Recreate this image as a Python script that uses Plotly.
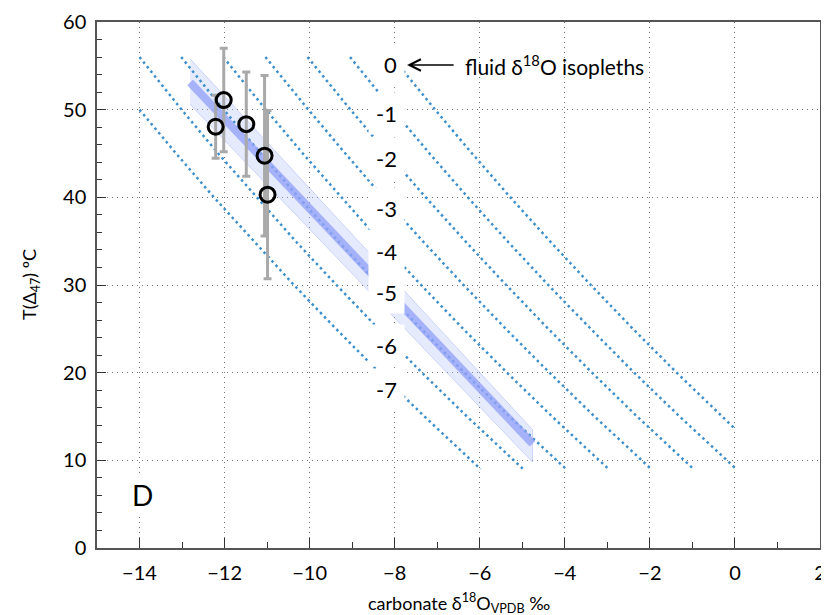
import plotly.graph_objects as go

# ---------------- data ----------------
x_obs = [-12.21, -12.02, -11.49, -11.06, -10.99]
t_obs = [48.05, 51.1, 48.35, 44.75, 40.3]
t_err = [3.6, 5.9, 5.95, 9.15, 9.6]

fit_x = [-12.81, -4.76]
fit_t = [53.1, 11.9]
band_upper = [55.8, 13.5]
band_lower = [50.6, 9.8]

# fluid d18O isopleths (carbonate d18O vs T)
iso_names = ["0", "-1", "-2", "-3", "-4", "-5", "-6", "-7"]
iso_t_0 = [56, 50, 45, 40, 35, 30, 25, 20, 15, 13.6]
iso_x_0 = [-8.06, -7.05, -6.18, -5.28, -4.35, -3.39, -2.40, -1.37, -0.30, 0.0]
iso_t_1 = [56, 50, 45, 40, 35, 30, 25, 20, 15, 9.15]
iso_x_1 = [-9.05, -8.05, -7.18, -6.28, -5.35, -4.39, -3.39, -2.37, -1.30, 0.0]
iso_t_std = [56, 50, 45, 40, 35, 30, 25, 20, 15, 9]
iso_x_2 = [-10.05, -9.04, -8.17, -7.27, -6.34, -5.38, -4.39, -3.36, -2.30, -0.97]
iso_x_3 = [-11.04, -10.03, -9.16, -8.27, -7.34, -6.38, -5.39, -4.36, -3.30, -1.97]
iso_x_4 = [-12.03, -11.03, -10.16, -9.26, -8.34, -7.38, -6.39, -5.36, -4.30, -2.97]
iso_x_5 = [-13.02, -12.02, -11.15, -10.26, -9.33, -8.37, -7.38, -6.36, -5.30, -3.97]
iso_x_6 = [-14.0, -13.01, -12.15, -11.25, -10.33, -9.37, -8.38, -7.36, -6.30, -4.98]
iso_t_7 = [50, 45, 40, 35, 30, 25, 20, 15, 9]
iso_x_7 = [-14.0, -13.14, -12.25, -11.32, -10.37, -9.38, -8.36, -7.30, -5.98]

label_t = [55.1, 49.6, 44.4, 38.7, 33.8, 29.2, 23.1, 18.1]

x_ticks = [-14, -12, -10, -8, -6, -4, -2, 0, 2]
x_ticktext = ["\u221214", "\u221212", "\u221210", "\u22128", "\u22126", "\u22124", "\u22122", "0", "2"]
y_ticks = [0, 10, 20, 30, 40, 50, 60]

# ---------------- figure ----------------
FONT = "Lato, 'Open Sans', sans-serif"
ISO_COLOR = "#3d8fcb"

iso_lines = [
    (iso_x_0, iso_t_0), (iso_x_1, iso_t_1), (iso_x_2, iso_t_std), (iso_x_3, iso_t_std),
    (iso_x_4, iso_t_std), (iso_x_5, iso_t_std), (iso_x_6, iso_t_std), (iso_x_7, iso_t_7),
]

fig = go.Figure()

# regression band
fig.add_trace(go.Scatter(
    x=fit_x + fit_x[::-1], y=band_upper + band_lower[::-1],
    fill="toself", fillcolor="rgba(170,185,250,0.30)",
    line=dict(color="rgba(150,165,245,0.40)", width=1),
    mode="lines", hoverinfo="skip", showlegend=False))

for (xs, ts), name in zip(iso_lines, iso_names):
    fig.add_trace(go.Scatter(
        x=xs, y=ts, mode="lines", name=name,
        line=dict(color=ISO_COLOR, width=2.5, dash="2.5px,3.4px"),
        showlegend=False, hoverinfo="skip"))

# best-fit line
fig.add_trace(go.Scatter(
    x=fit_x, y=fit_t, mode="lines",
    line=dict(color="rgba(148,162,247,0.78)", width=8),
    showlegend=False, hoverinfo="skip"))

# observations
fig.add_trace(go.Scatter(
    x=x_obs, y=t_obs, mode="markers",
    marker=dict(symbol="circle-open", size=15, color="black", line=dict(width=3, color="black")),
    error_y=dict(type="data", array=t_err, visible=True, color="#a9a9a9", thickness=3, width=4),
    showlegend=False))

annotations = []
for name, t in zip(iso_names, label_t):
    annotations.append(dict(
        x=-7.76, y=t, xref="x", yref="y", text=name, showarrow=False,
        xanchor="right", yanchor="middle", bgcolor="white", borderpad=7,
        font=dict(family=FONT, size=22, color="black")))

# arrow
annotations.append(dict(
    x=-7.71, y=55.1, ax=-6.58, ay=55.1, xref="x", yref="y", axref="x", ayref="y",
    text="", showarrow=True, arrowhead=5, arrowsize=1.4, arrowwidth=1.6, arrowcolor="black"))
annotations.append(dict(
    x=-6.39, y=55.1, xref="x", yref="y", text="fluid \u03b4<sup>18</sup>O isopleths",
    showarrow=False, xanchor="left", yanchor="middle",
    font=dict(family=FONT, size=21, color="black")))

annotations.append(dict(
    x=-13.93, y=6.1, xref="x", yref="y", text="D", showarrow=False,
    xanchor="center", yanchor="middle", bgcolor="white", borderpad=3,
    font=dict(family=FONT, size=28, color="black")))

# axis titles
annotations.append(dict(
    x=0.5, y=0, xref="paper", yref="paper", yshift=-55, showarrow=False,
    xanchor="center", yanchor="middle",
    text="carbonate \u03b4<sup>18</sup>O<sub>VPDB</sub> \u2030",
    font=dict(family=FONT, size=18, color="black")))
annotations.append(dict(
    x=0, y=0.5, xref="paper", yref="paper", xshift=-67, showarrow=False,
    xanchor="center", yanchor="middle", textangle=-90,
    text="T(\u0394<sub>47</sub>) \u00baC",
    font=dict(family=FONT, size=18, color="black")))

axis_common = dict(
    showline=True, linecolor="#555555", linewidth=1.5, mirror=True,
    ticks="inside", tickcolor="#333333", tickwidth=1.2,
    showgrid=True, gridcolor="#777777", gridwidth=1, griddash="1px,4px",
    zeroline=False, tickfont=dict(family=FONT, size=20, color="black"),
    automargin=False,
)

# the page adds an 8px body margin, so the margins below are offset to compensate
fig.update_layout(
    width=829, height=615,
    margin=dict(l=89, r=17, t=14, b=75),
    paper_bgcolor="white", plot_bgcolor="white",
    font=dict(family=FONT, color="black"),
    annotations=annotations,
    xaxis=dict(
        range=[-15, 2], tickvals=x_ticks, ticktext=x_ticktext, ticklen=10,
        minor=dict(dtick=1, ticks="inside", ticklen=6, tickcolor="#333333", showgrid=False),
        ticklabelstandoff=6,
        **axis_common),
    yaxis=dict(
        range=[0, 60], tickvals=y_ticks, ticklen=9,
        minor=dict(dtick=2, ticks="inside", ticklen=5, tickcolor="#333333", showgrid=False),
        ticklabelstandoff=5,
        **axis_common),
)

fig.write_html("out.html")
